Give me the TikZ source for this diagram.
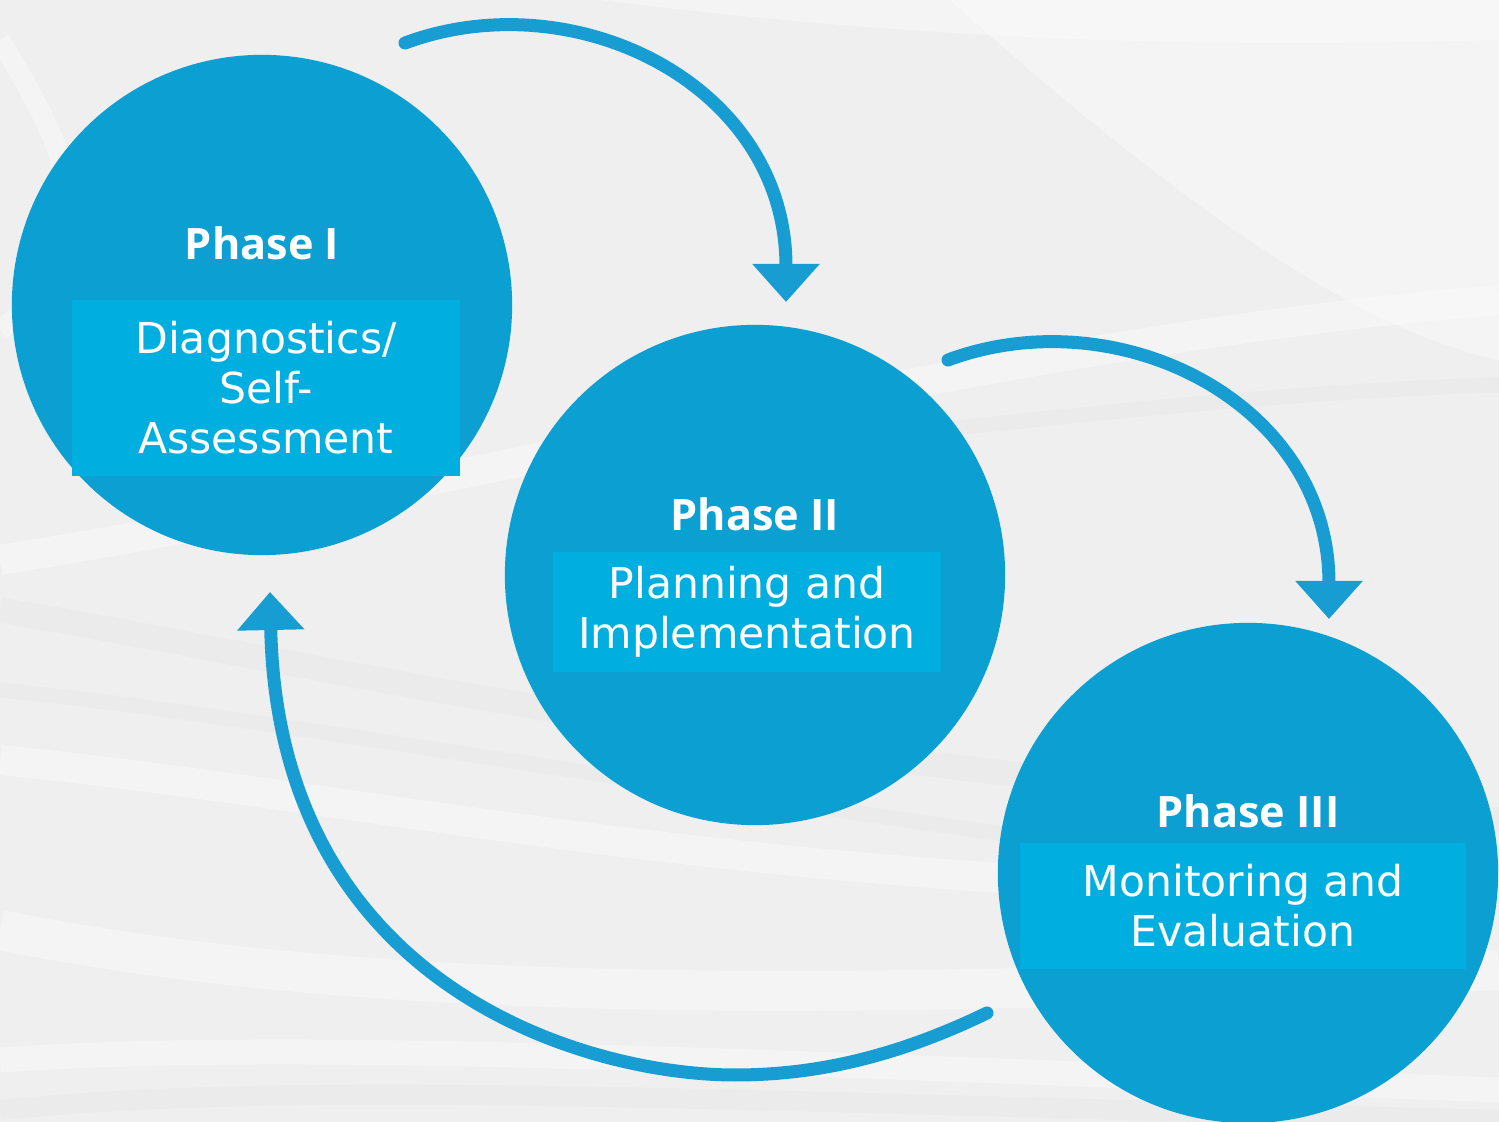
\documentclass[tikz,border=0pt]{standalone}
\usepackage{fontspec}
\setmainfont{DejaVu Sans}
\newfontfamily\phasefont{Open Sans}
\usepackage{xcolor}
\usetikzlibrary{arrows.meta}

\definecolor{phaseblue}{HTML}{0C9FD2}
\definecolor{boxblue}{HTML}{00AEE0}
\definecolor{arrowblue}{HTML}{189DD3}
\definecolor{bggray}{HTML}{EFEFEF}
\definecolor{bandgray}{HTML}{E4E4E4}

\tikzset{
	phase/.style={circle,fill=phaseblue,minimum size=5cm,inner sep=0pt},
	phasebox/.style={fill=boxblue,text=white,inner sep=0pt,align=center,font=\fontsize{12.1}{14.2}\selectfont},
	phasetitle/.style={text=white,font=\phasefont\bfseries\fontsize{12.3}{14}\selectfont},
	cycle/.style={draw=arrowblue,line width=1.3mm,line cap=round,-{Triangle[width=6.5mm,length=3.8mm,sharp]}},
	swoosh/.style={white,opacity=0.35},
	band/.style={bandgray,opacity=0.35}
}

\begin{document}
\begin{tikzpicture}[x=0.01cm,y=-0.01cm]
	\useasboundingbox (0,0) rectangle (1499,1122);
	\clip (0,0) rectangle (1499,1122);
	% background
	\fill[bggray] (0,0) rectangle (1499,1122);
	\fill[swoosh] (600,0) .. controls (1000,50) and (1300,45) .. (1499,40) -- (1499,0) -- cycle;
	\fill[swoosh] (950,0) .. controls (1150,180) and (1350,330) .. (1499,360) -- (1499,0) -- cycle;
	\draw[band,line width=2.5mm] (0,610) .. controls (300,660) and (700,760) .. (1499,820);
	\draw[band,line width=1.5mm] (0,690) .. controls (300,720) and (700,800) .. (1499,900);
	\draw[swoosh,line width=3mm] (0,760) .. controls (400,800) and (800,900) .. (1499,890);
	\draw[swoosh,line width=4mm] (0,930) .. controls (300,990) and (700,1010) .. (1499,970);
	\draw[band,line width=2mm] (0,1110) .. controls (300,1080) and (700,1100) .. (1499,1120);
	\draw[swoosh,line width=2.5mm] (0,1060) .. controls (300,1040) and (700,1060) .. (1499,1090);
	\draw[swoosh,line width=3mm] (0,560) .. controls (500,480) and (1000,340) .. (1499,300);
	\draw[band,line width=1.5mm] (600,470) .. controls (1000,420) and (1300,390) .. (1499,385);
	\draw[swoosh,line width=2mm] (0,40) .. controls (60,140) and (120,240) .. (0,330);

	% (circles)
	\node[phase] (p1) at (262,305) {};
	\node[phase] (p2) at (755,575) {};
	\node[phase] (p3) at (1248,873) {};

	\node[phasetitle] (t1) at (262,243) {Phase I};
	\node[phasetitle] (t2) at (755,514) {Phase II};
	\node[phasetitle] (t3) at (1248,811) {Phase III};

	\node[phasebox,minimum width=3.88cm,minimum height=1.75cm] (b1) at (266,388) {Diagnostics/\\Self-\\Assessment};
	\node[phasebox,minimum width=3.87cm,minimum height=1.2cm] (b2) at (747,612) {\rule{0pt}{8pt}Planning and\\Implementation};
	\node[phasebox,minimum width=4.45cm,minimum height=1.25cm] (b3) at (1243,906) {Monitoring and\\Evaluation};

	% (arrows)
	\coordinate (a1s) at (405,43);
	\coordinate (a1e) at (786,302);
	\coordinate (a2s) at (948,360);
	\coordinate (a2e) at (1329,619);
	\coordinate (a3s) at (987,1013);
	\coordinate (a3m) at (735,1075);
	\coordinate (a3e) at (270,592);
	\draw[cycle] (a1s) .. controls (575,-20) and (786,85) .. (a1e);
	\draw[cycle] (a2s) .. controls (1118,297) and (1329,402) .. (a2e);
	\draw[cycle] (a3s) .. controls (900,1055) and (820,1075) .. (a3m) .. controls (590,1075) and (278,990) .. (a3e);
\end{tikzpicture}
\end{document}
